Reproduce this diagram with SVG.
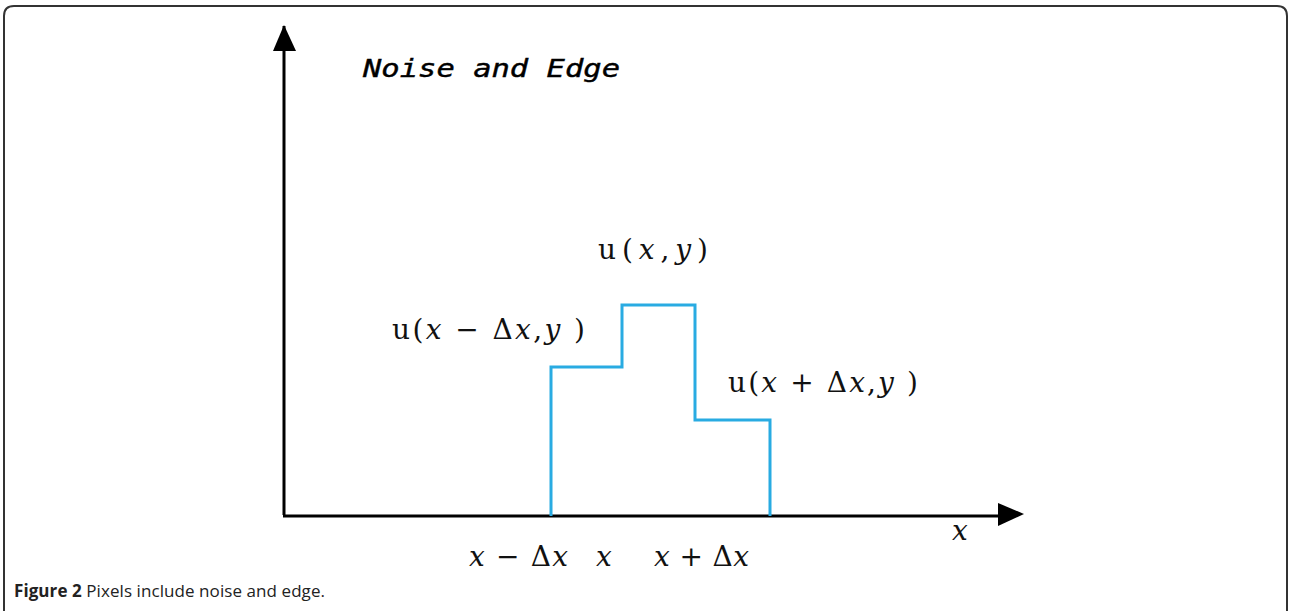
<svg xmlns="http://www.w3.org/2000/svg" width="1290" height="611" viewBox="0 0 1290 611">
<style>
.m{font-family:"DejaVu Serif","Liberation Serif",serif;font-size:28px;fill:#111}
.i{font-style:italic}
.cap{font-family:"Open Sans","Liberation Sans",sans-serif;font-size:17px;fill:#222}
</style>
<rect width="1290" height="611" fill="#fff"/>
<path d="M4,614 V16 Q4,6 14,6 H1277 Q1287,6 1287,16 V614" fill="none" stroke="#333" stroke-width="2"/>
<g id="connectors">
<path d="M284,515 V26" stroke="#000" stroke-width="3" fill="none"/>
<path d="M273,51 L284,25 L296,51 Z" fill="#000"/>
<path d="M283,516 H1000" stroke="#000" stroke-width="3" fill="none"/>
<path d="M998,503 L1024,514 L998,526 Z" fill="#000"/>
</g>
<g id="signal">
<path d="M551,516 V367 H622 V305 H695 V420 H770 V516" fill="none" stroke="#29abe2" stroke-width="3"/>
</g>
<g id="title">
<text x="363" y="77" font-family="DejaVu Sans Mono, monospace" font-style="italic" font-size="24" fill="#000" stroke="#000" stroke-width="0.4" textLength="257" lengthAdjust="spacingAndGlyphs">Noise and Edge</text>
</g>
<g id="labels">
<text class="m" x="598" y="259" textLength="110">u(<tspan class="i">x</tspan>,<tspan class="i">y</tspan>)</text>
<text class="m" x="392" y="339" textLength="193">u(<tspan class="i">x</tspan> − Δ<tspan class="i">x</tspan>,<tspan class="i">y</tspan> )</text>
<text class="m" x="728" y="392" textLength="190">u(<tspan class="i">x</tspan> + Δ<tspan class="i">x</tspan>,<tspan class="i">y</tspan> )</text>
<text class="m i" x="952" y="540">x</text>
<text class="m" x="469" y="566" textLength="99"><tspan class="i">x</tspan> − Δ<tspan class="i">x</tspan></text>
<text class="m i" x="596" y="566">x</text>
<text class="m" x="654" y="566" textLength="95"><tspan class="i">x</tspan> + Δ<tspan class="i">x</tspan></text>
</g>
<g id="caption">
<text class="cap" x="14" y="597" textLength="311"><tspan font-weight="bold">Figure 2</tspan> Pixels include noise and edge.</text>
</g>
</svg>
